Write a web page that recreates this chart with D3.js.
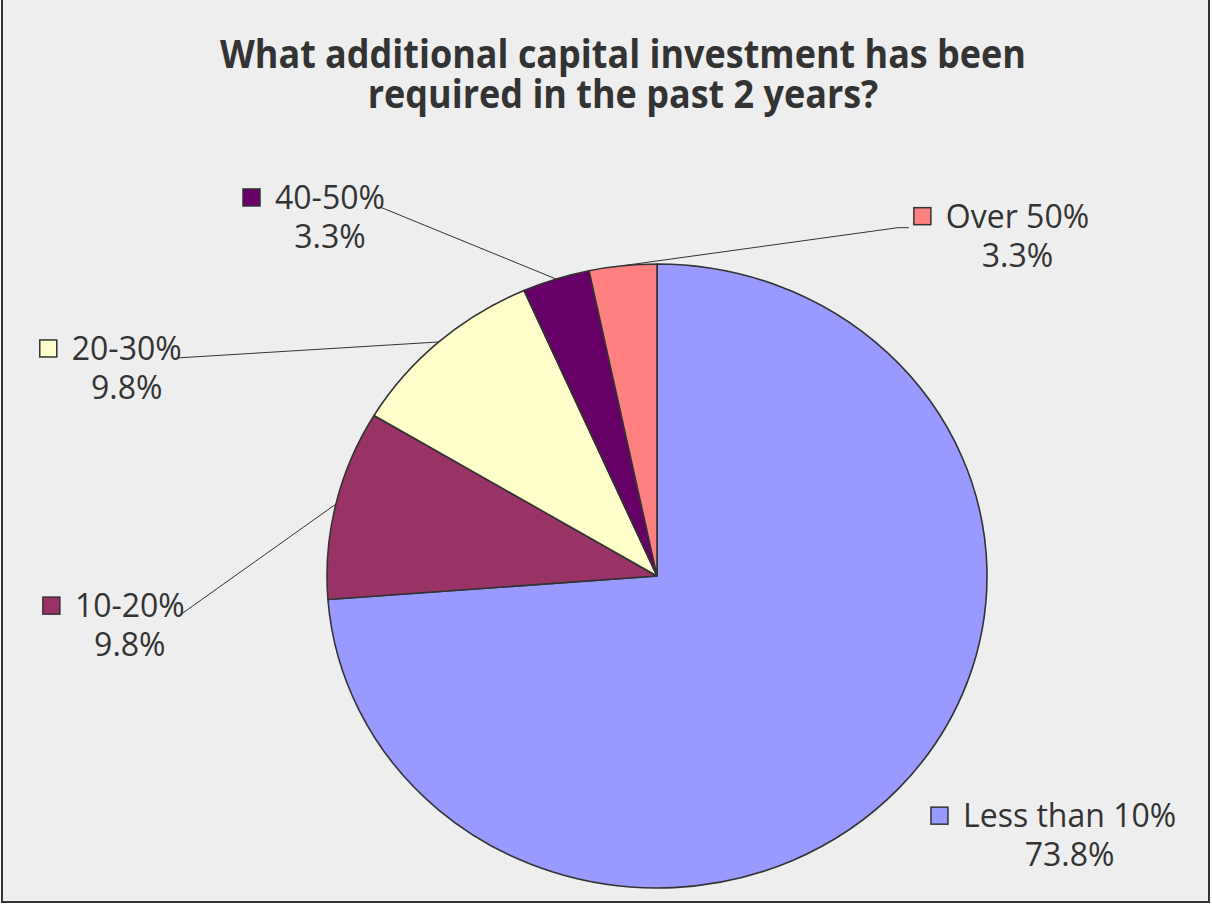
<!DOCTYPE html>
<html>
<head>
<meta charset="utf-8">
<script src="https://cdn.jsdelivr.net/npm/d3@7"></script>
<style>
  html, body { margin: 0; padding: 0; background: #ffffff; }
  svg { display: block; }
</style>
</head>
<body>
<svg id="chart" width="1212" height="905"></svg>
<script>
// Survey answers: share of respondents per additional capital investment band
const categories = ["Less than 10%", "10-20%", "20-30%", "40-50%", "Over 50%"];
const shares = [73.8, 9.8, 9.8, 3.3, 3.3];
const sliceColors = ["#9999FF", "#993366", "#FFFFCC", "#660066", "#FF8080"];
const titleLines = ["What additional capital investment has been", "required in the past 2 years?"];

// Label placement: offset of the label text start from the slice's outer midpoint,
// and which side the leader line attaches to.
const labelOffsets = [[64, 39], [-261, 113], [-367, 18], [-281, -70], [323, -38]];
const leaderSides = ["none", "end", "end", "end", "start"];

const W = 1212, H = 905;
const cx = 657, cy = 576, rx = 330, ry = 312;
const ink = "#333333";
const labelFont = "'Open Sans', 'Noto Sans', sans-serif";

const svg = d3.select("#chart");

// Chart area
svg.append("rect")
  .attr("x", 2).attr("y", -4)
  .attr("width", 1207).attr("height", 906)
  .attr("fill", "#EEEEEE")
  .attr("stroke", ink).attr("stroke-width", 2);

// Title: one text block, two lines, compressed to a condensed bold look
const title = svg.append("text")
  .attr("text-anchor", "middle")
  .attr("font-family", labelFont)
  .attr("font-weight", 700)
  .attr("font-size", 40)
  .attr("fill", ink);
const titleSpans = title.selectAll("tspan").data(titleLines).join("tspan")
  .attr("x", 623)
  .attr("y", (d, i) => 68 + i * 40)
  .text(d => d);
const natural = titleSpans.nodes().map(n => n.getComputedTextLength());
const squeeze = 806 / natural[0];
titleSpans
  .attr("textLength", (d, i) => natural[i] * squeeze)
  .attr("lengthAdjust", "spacingAndGlyphs");

// Pie (slightly elliptical)
const pieData = d3.pie().sort(null).value(d => d.value)(
  categories.map((c, i) => ({ name: c, value: shares[i], color: sliceColors[i] }))
);
const arc = d3.arc().innerRadius(0).outerRadius(rx);
const pieG = svg.append("g")
  .attr("transform", `translate(${cx},${cy}) scale(1,${ry / rx})`);
pieG.selectAll("path").data(pieData).join("path")
  .attr("d", arc)
  .attr("fill", d => d.data.color)
  .attr("stroke", ink)
  .attr("stroke-width", 1.6)
  .attr("stroke-linejoin", "round")
  .attr("vector-effect", "non-scaling-stroke");

// Outer midpoint of a slice on the ellipse
function edgePoint(d) {
  const a = (d.startAngle + d.endAngle) / 2;
  return [cx + rx * Math.sin(a), cy - ry * Math.cos(a)];
}

const fmt = v => d3.format(".1f")(v) + "%";
const labelG = svg.append("g");

pieData.forEach((d, i) => {
  const [ex, ey] = edgePoint(d);
  const tx = ex + labelOffsets[i][0];
  const ty = ey + labelOffsets[i][1];
  const g = labelG.append("g");

  const name = g.append("text")
    .attr("x", tx).attr("y", ty)
    .attr("font-family", labelFont)
    .attr("font-size", 32)
    .attr("fill", ink)
    .text(d.data.name);
  const tw = name.node().getComputedTextLength();

  g.append("text")
    .attr("x", tx + tw / 2).attr("y", ty + 39)
    .attr("text-anchor", "middle")
    .attr("font-family", labelFont)
    .attr("font-size", 32)
    .attr("fill", ink)
    .text(fmt(d.data.value));

  const mSize = 17;
  const mx = tx - 15 - mSize;
  g.append("rect")
    .attr("x", mx).attr("y", ty - 20)
    .attr("width", mSize).attr("height", mSize)
    .attr("fill", d.data.color)
    .attr("stroke", ink).attr("stroke-width", 1.5);

  let pts = null;
  if (leaderSides[i] === "end") {
    pts = [[ex, ey], [tx + tw - 5, ty - 2]];
  } else if (leaderSides[i] === "start") {
    pts = [[ex, ey], [mx - 16, ty], [mx - 5, ty]];
  }
  if (pts) {
    svg.insert("path", "g")
      .attr("d", d3.line()(pts))
      .attr("fill", "none")
      .attr("stroke", ink)
      .attr("stroke-width", 1);
  }
});
</script>
</body>
</html>
